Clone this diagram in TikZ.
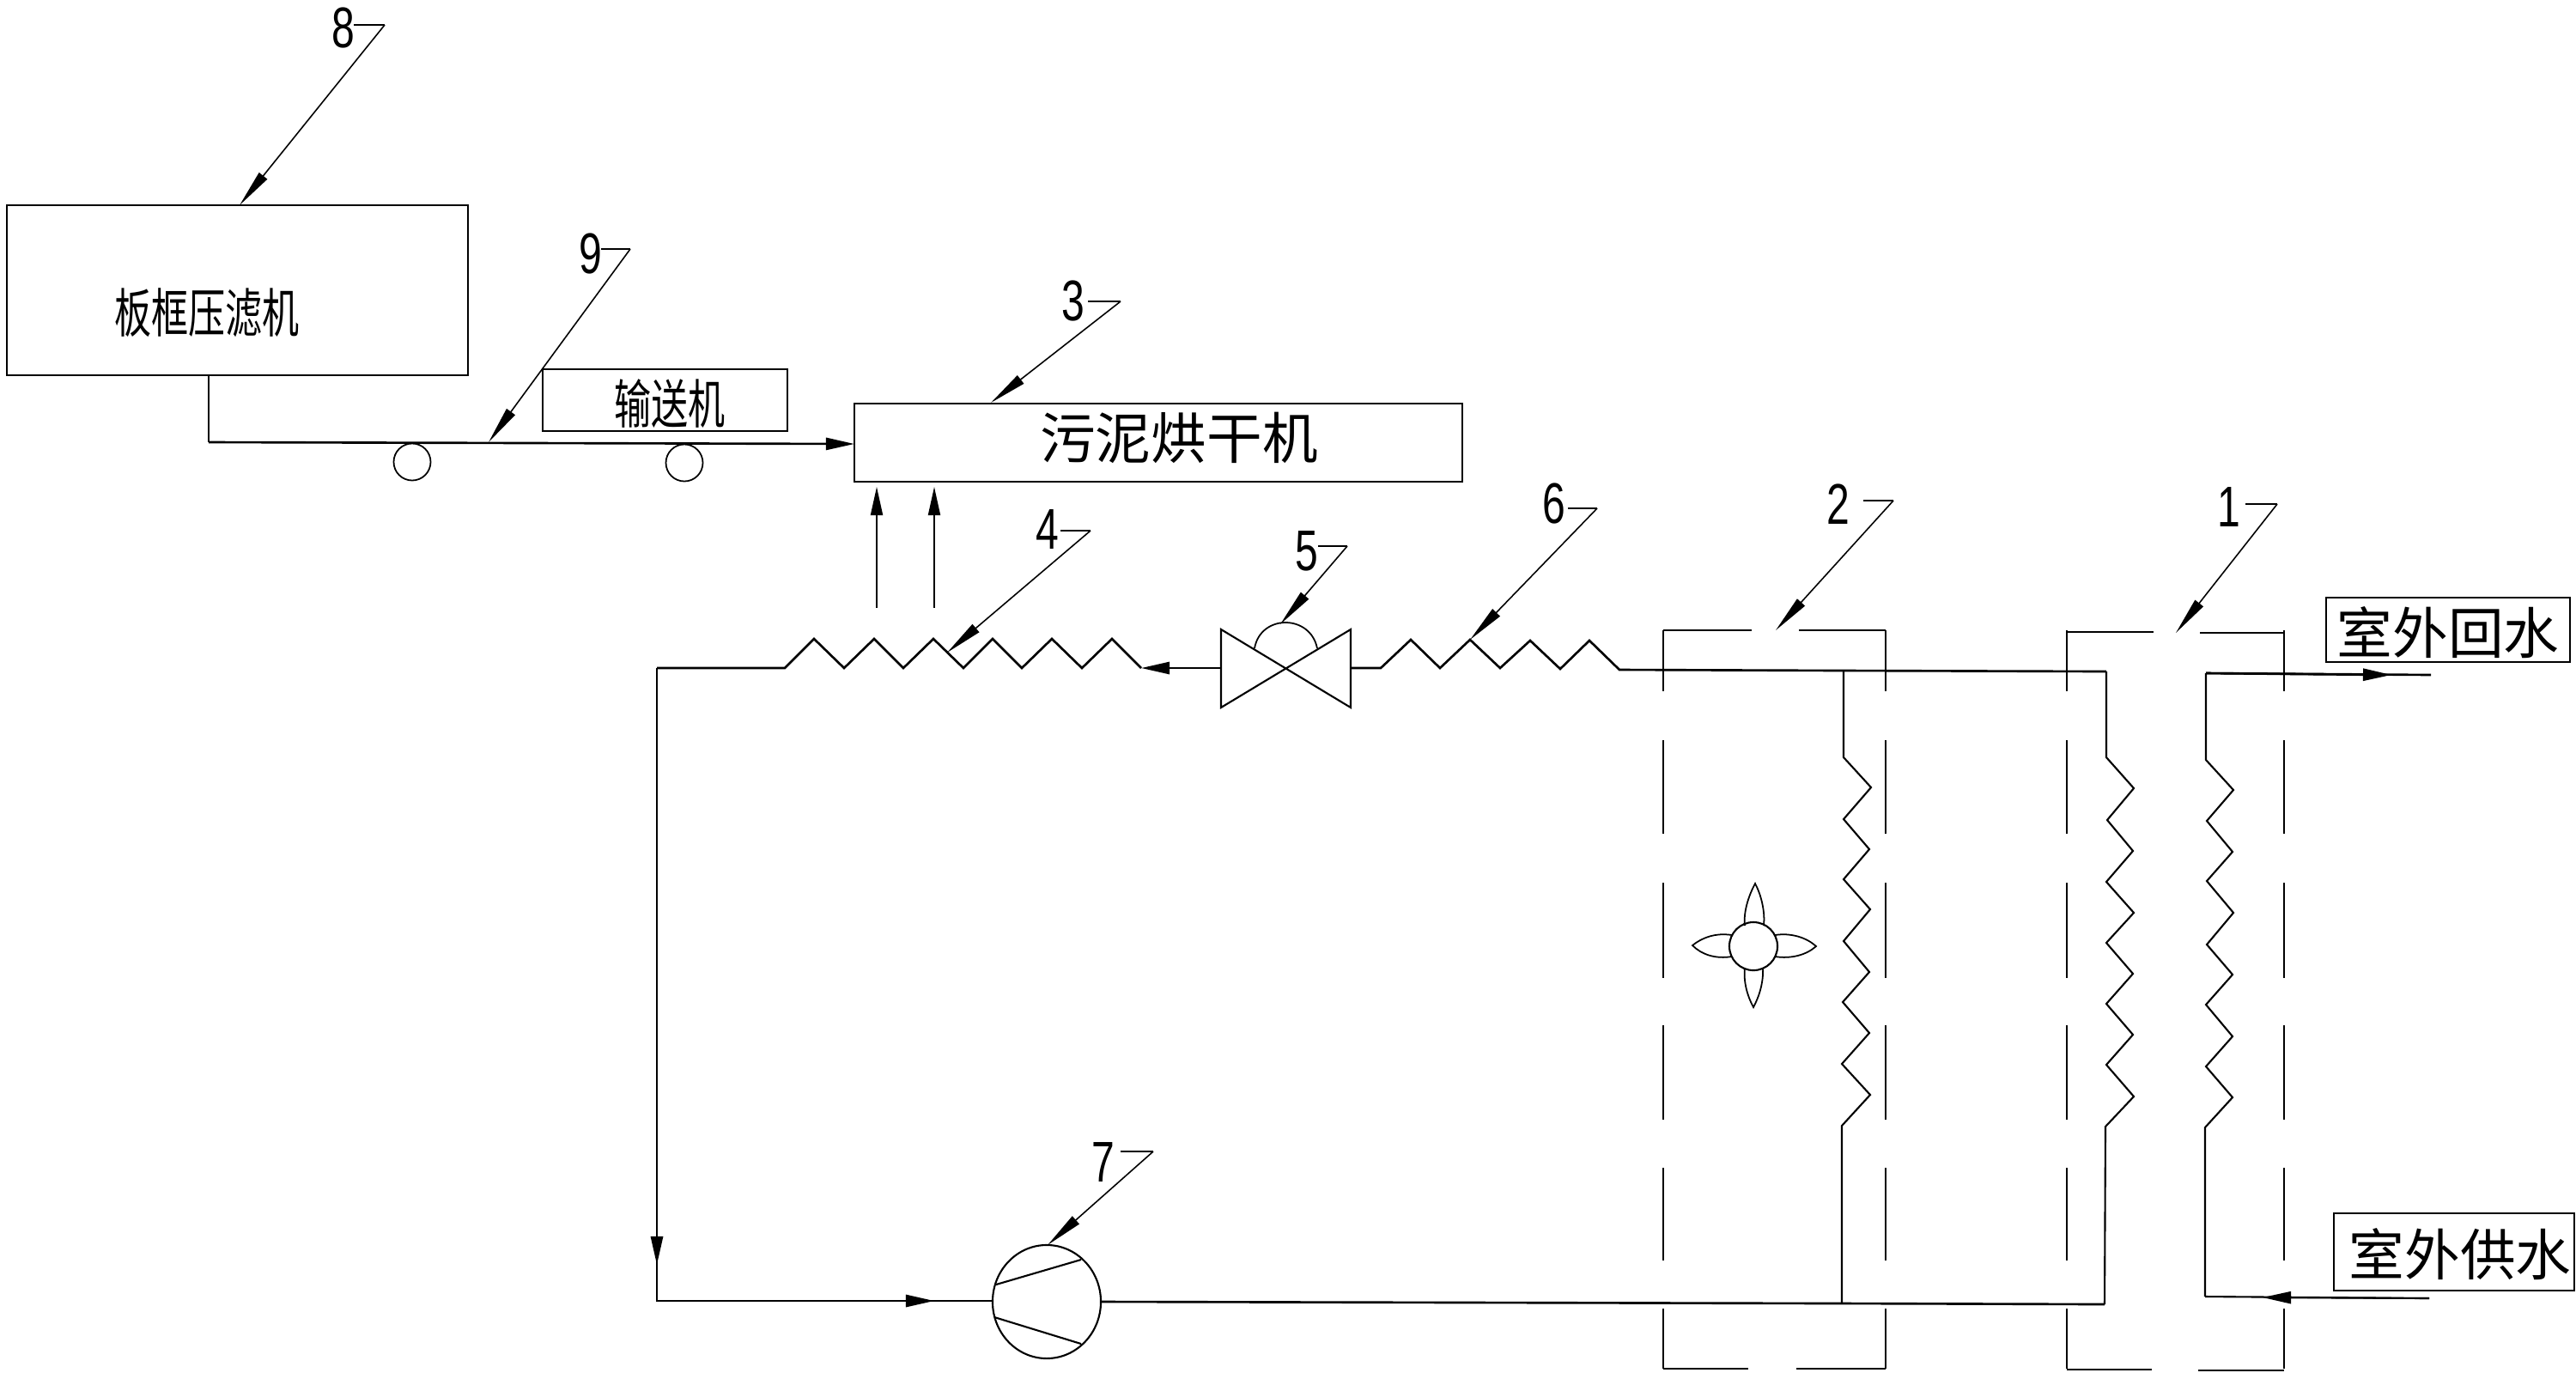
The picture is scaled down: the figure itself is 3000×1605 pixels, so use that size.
\documentclass[tikz,border=0pt]{standalone}
\usepackage{graphicx}
\usepackage{fontspec}
\setmainfont{Liberation Sans}
\newfontfamily\cjk{Noto Sans CJK SC}
\usetikzlibrary{arrows.meta,shapes.geometric}
\tikzset{
  pipe/.style={line width=0.75pt,line join=miter},
  thin line/.style={line width=0.5pt},
  flow/.style={pipe,-{Triangle[length=9.4pt,width=4pt]}},
  lead/.style={line width=0.45pt,-{Triangle[length=12.5pt,width=3.4pt]}},
  frame seg/.style={line width=0.55pt},
  box/.style={draw,line width=0.6pt,inner sep=0pt,rectangle},
  digit/.style={inner sep=0pt,font=\fontsize{19}{19}\selectfont},
  cjklabel/.style={inner sep=0pt,font=\cjk\fontsize{18.4}{18.4}\selectfont},
  cjknarrow/.style={inner sep=0pt,font=\cjk\fontsize{17.5}{17.5}\selectfont}
}
\newcommand{\narrowtxt}[1]{\scalebox{.70}[1]{#1}}
\newcommand{\narrowdig}[1]{\scalebox{.72}[1]{#1}}
\begin{document}
\begin{tikzpicture}[x=0.01cm,y=-0.01cm]
\useasboundingbox[fill=white] (0,0) rectangle (3000,1605);

% boxes
\node[box,minimum width=5.37cm,minimum height=1.98cm] (press) at (276.5,338) {};
\node[cjknarrow] (presstxt) at (241,364) {\narrowtxt{板框压滤机}};
\node[box,minimum width=2.85cm,minimum height=0.72cm] (conv) at (774.5,466) {};
\node[cjknarrow] (convtxt) at (780,470) {\narrowtxt{输送机}};
\node[box,minimum width=7.08cm,minimum height=0.91cm] (dryer) at (1349,515.5) {};
\node[cjklabel] (dryertxt) at (1373,510) {污泥烘干机};
\node[box,minimum width=2.84cm,minimum height=0.75cm] (ret) at (2851,733.5) {};
\node[cjklabel] (rettxt) at (2851,737) {室外回水};
\node[box,minimum width=2.80cm,minimum height=0.90cm] (sup) at (2858,1458) {};
\node[cjklabel] (suptxt) at (2865,1461) {室外供水};

% conveyor
\coordinate (pressout) at (243,437);
\coordinate (pressdown) at (243,515);
\coordinate (dryerin) at (995,517);
\draw[pipe] (pressout) -- (pressdown);
\draw[flow] (pressdown) -- (dryerin);
\node[draw,line width=0.5pt,circle,minimum size=0.43cm,inner sep=0pt] (roll1) at (480,538) {};
\node[draw,line width=0.5pt,circle,minimum size=0.43cm,inner sep=0pt] (roll2) at (797,539) {};

% hot air arrows
\coordinate (air1a) at (1021,708);
\coordinate (air2a) at (1088,708);
\draw[flow,line width=0.5pt] (air1a) -- (1021,567);
\draw[flow,line width=0.5pt] (air2a) -- (1088,567);

% main refrigerant loop: condenser 4
\coordinate (cl) at (765,778);
\coordinate (cldown) at (765,1515);
\coordinate (valveL) at (1422,778);
\coordinate (valveR) at (1573,778);
\coordinate (c4end) at (1329,778);
\draw[pipe] (cl) -- (914,778) -- (948,744) -- (983,778) -- (1018,744) -- (1052,778) -- (1087,744) -- (1122,778)
  -- (1156,744) -- (1190,778) -- (1225,744) -- (1260,778) -- (1295,744) -- (c4end);
\draw[flow] (valveL) -- (c4end);

% valve 5
\draw[pipe,line width=0.6pt] (1422,733) -- (1573,824) -- (1573,733) -- (1422,824) -- cycle;
\draw[thin line] (1461,755) .. controls (1468,715) and (1526,715) .. (1534,755);

% coil 6 and top line
\coordinate (t2) at (2147,781);
\coordinate (t1) at (2453,782);
\draw[pipe] (valveR) -- (1608,778) -- (1643,745) -- (1677,778) -- (1712,745) -- (1747,778) -- (1782,746) -- (1817,779) -- (1851,746) -- (1886,780) -- (t2) -- (t1);

% left pipe and compressor
\coordinate (compin) at (1157,1515);
\draw[pipe] (cl) -- (cldown) -- (compin);
\draw[flow] (cl) -- (765,1473);
\draw[flow] (cldown) -- (1088,1515);
\node[draw,line width=0.6pt,ellipse,minimum width=1.26cm,minimum height=1.32cm,inner sep=0pt] (comp) at (1219,1516) {};
\draw[thin line,line width=0.6pt] (1160,1496) -- (1259,1467);
\draw[thin line,line width=0.6pt] (1158,1534) -- (1259,1565);
\coordinate (b2) at (2145,1518);
\coordinate (b1) at (2451,1519);
\draw[pipe] (comp.east) -- (b2) -- (b1);

% coil in unit 2
\draw[thin line,line width=0.6pt] (t2) -- (2147,882) -- (2179,917) -- (2147,954) -- (2177,989) -- (2147,1024) -- (2178,1059) -- (2147,1096)
  -- (2177,1132) -- (2146,1167) -- (2177,1203) -- (2145,1239) -- (2178,1275) -- (2145,1311) -- (b2);
% coil in unit 1 (left)
\draw[thin line,line width=0.6pt] (t1) -- (2453,882) -- (2485,918) -- (2454,955) -- (2484,991) -- (2453,1027) -- (2485,1063) -- (2453,1098)
  -- (2484,1134) -- (2453,1169) -- (2484,1205) -- (2453,1240) -- (2485,1277) -- (2452,1312) -- (b1);
% coil in unit 1 (right)
\coordinate (w1) at (2569,784);
\coordinate (w2) at (2568,1510);
\coordinate (wout) at (2831,786);
\coordinate (win) at (2829,1512);
\draw[thin line,line width=0.6pt] (w1) -- (2569,885) -- (2601,920) -- (2570,956) -- (2600,992) -- (2570,1026) -- (2601,1063) -- (2570,1100)
  -- (2600,1135) -- (2569,1170) -- (2600,1207) -- (2569,1242) -- (2600,1278) -- (2568,1313) -- (w2);
\draw[pipe] (w1) -- (wout);
\draw[flow] (w1) -- (2785,786);
\draw[pipe,line width=0.6pt] (win) -- (w2);
\draw[flow,line width=0.6pt] (win) -- (2635,1511);

% dash-dot frames
\foreach \xx in {1937,2196,2407,2660}{
  \foreach \ya/\yb in {734/805,862/971,1028/1139,1194/1304,1360/1468,1524/1594}{
    \draw[frame seg] (\xx,\ya) -- (\xx,\yb);
  }
}
\draw[frame seg] (1937,734) -- (2040,734);
\draw[frame seg] (2095,734) -- (2196,734);
\draw[frame seg] (1937,1594) -- (2036,1594);
\draw[frame seg] (2092,1594) -- (2196,1594);
\draw[frame seg] (2407,736) -- (2508,736);
\draw[frame seg] (2562,737) -- (2660,737);
\draw[frame seg] (2407,1595) -- (2506,1595);
\draw[frame seg] (2560,1596) -- (2660,1596);

% fan
\node[draw,line width=0.6pt,circle,minimum size=0.56cm,inner sep=0pt] (fan) at (2042,1102) {};
\draw[thin line] (2032,1078) .. controls (2030,1060) and (2038,1040) .. (2044,1029) .. controls (2050,1040) and (2056,1060) .. (2054,1078);
\draw[thin line] (2032,1127) .. controls (2030,1145) and (2036,1162) .. (2042,1173) .. controls (2048,1162) and (2054,1145) .. (2053,1127);
\draw[thin line] (2017,1089) .. controls (1998,1086) and (1982,1092) .. (1971,1101) .. controls (1982,1112) and (1998,1117) .. (2017,1114);
\draw[thin line] (2067,1089) .. controls (2086,1086) and (2104,1092) .. (2115,1102) .. controls (2104,1112) and (2086,1117) .. (2067,1114);

% leaders
\foreach \name/\txt/\dx/\dy/\sx/\sy/\ex/\ey/\tx/\ty in {
  eight/8/400/32/412/29/448/29/279/239,
  nine/9/688/295/700/290/734/290/569/515,
  three/3/1250/350/1267/351/1305/351/1154/469,
  four/4/1220/616/1235/618/1270/618/1103/760,
  five/5/1522/642/1535/636/1569/636/1491/727,
  six/6/1810/586/1826/592/1860/592/1712/745,
  seven/7/1285/1353/1305/1341/1343/1341/1220/1450,
  two/2/2141/587/2170/583/2205/583/2068/734,
  one/1/2596/590/2615/587/2652/587/2534/737}{
  \node[digit] (lab\name) at (\dx,\dy) {\narrowdig{\txt}};
  \coordinate (s\name) at (\sx,\sy);
  \coordinate (e\name) at (\ex,\ey);
  \coordinate (t\name) at (\tx,\ty);
  \draw[thin line,line width=0.45pt] (s\name) -- (e\name);
  \draw[lead] (e\name) -- (t\name);
}
\end{tikzpicture}
\end{document}
